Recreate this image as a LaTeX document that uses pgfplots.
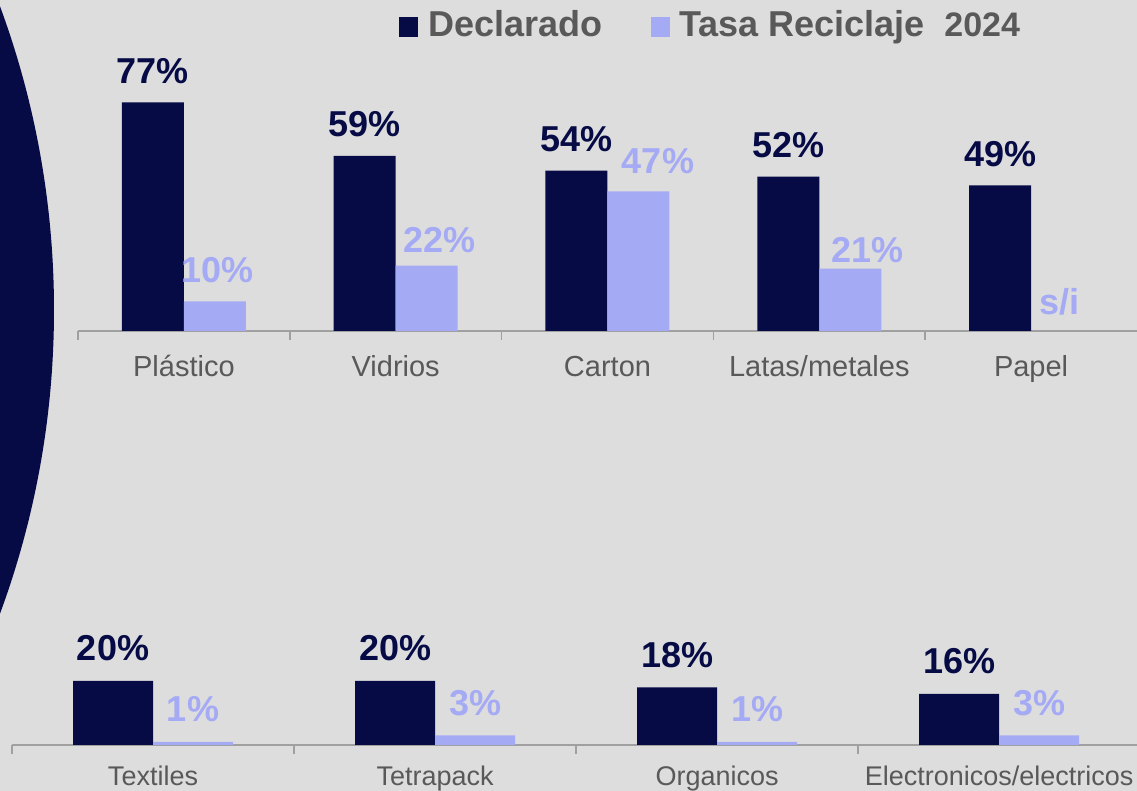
\documentclass[border=0pt]{standalone}
\usepackage{pgfplots}
\pgfplotsset{compat=1.18}
\usepackage{fontspec}
\setmainfont{Liberation Sans}
\definecolor{bgcol}{RGB}{221,221,221}
\definecolor{navy}{RGB}{6,11,70}
\definecolor{lilac}{RGB}{165,170,245}
\definecolor{txtgray}{RGB}{89,89,89}
\definecolor{axgray}{RGB}{160,160,160}
\newcommand{\pctfont}{\fontsize{18}{20}\selectfont\bfseries}

\pgfplotsset{
  recbars/.style={
    scale only axis, anchor=south west, clip=false,
    ybar, ymin=0,
    axis x line*=bottom, axis y line=none,
    axis line style={draw=axgray, line width=0.75pt, -},
    major tick length=0pt,
    minor tick length=4.5pt, tick align=outside,
    every minor tick/.append style={draw=axgray, line width=0.75pt},
    xticklabel style={text=txtgray, anchor=base},
    nodes near coords={\pgfmathprintnumber[assume math mode=true]{\pgfplotspointmeta}\%},
    every node near coord/.append style={font=\pctfont, anchor=base, inner sep=0pt},
  },
}

\begin{document}
\begin{tikzpicture}[x=0.5pt,y=0.5pt]
\fill[bgcol] (0,0) rectangle (1137,791);
\begin{scope}
  \clip (0,0) rectangle (1137,791);
  \fill[navy] (-823,481) circle[radius=438.5pt];
\end{scope}

% legend
\fill[navy] (399,754) rectangle (418,774);
\node[anchor=base west, inner sep=0pt, text=txtgray, font=\fontsize{18}{20}\selectfont\bfseries] at (428,754) {Declarado};
\fill[lilac] (651,754) rectangle (670,774);
\node[anchor=base west, inner sep=0pt, text=txtgray, font=\fontsize{18}{20}\selectfont\bfseries] at (679,754) {Tasa Reciclaje};
\node[anchor=base west, inner sep=0pt, text=txtgray, font=\fontsize{17}{19}\selectfont\bfseries] at (944,754) {2024};

% top group
\begin{axis}[recbars,
  at={(39pt,230pt)}, width=529.5pt, height=118.8pt,
  xmin=-0.5, xmax=4.5, ymax=80, bar width=31pt,
  xtick={0,1,2,3,4},
  xticklabels={Plástico,Vidrios,Carton,Latas/metales,Papel},
  minor xtick={-0.5,0.5,1.5,2.5,3.5},
  xticklabel style={font=\fontsize{14.5}{16}\selectfont, yshift=-23pt},
]
\addplot[fill=navy, draw=none, bar shift=-15.5pt,
  every node near coord/.append style={text=navy, yshift=9.5pt}]
  coordinates {(0,77) (1,59) (2,54) (3,52) (4,49)};
\addplot[fill=lilac, draw=none, bar shift=15.5pt, nodes near coords={}]
  coordinates {(0,10) (1,22) (2,47) (3,21)};
\node[anchor=base, inner sep=0pt, font=\pctfont, text=lilac, xshift=16.75pt, yshift=24pt] at (axis cs:0,0) {10\%};
\node[anchor=base, inner sep=0pt, font=\pctfont, text=lilac, xshift=21.75pt, yshift=39pt] at (axis cs:1,0) {22\%};
\node[anchor=base, inner sep=0pt, font=\pctfont, text=lilac, xshift=25.25pt, yshift=78.5pt] at (axis cs:2,0) {47\%};
\node[anchor=base, inner sep=0pt, font=\pctfont, text=lilac, xshift=24pt, yshift=34pt] at (axis cs:3,0) {21\%};
\node[anchor=base, inner sep=0pt, font=\pctfont, text=lilac, xshift=14pt, yshift=8pt] at (axis cs:4,0) {s/i};
\end{axis}

% bottom group
\begin{axis}[recbars,
  at={(6pt,23pt)}, width=562.5pt, height=40pt,
  xmin=-0.5, xmax=3.489, ymax=25, bar width=40pt,
  xtick={0,1,2,3},
  xticklabels={Textiles,Tetrapack,Organicos,Electronicos/electricos},
  minor xtick={-0.5,0.5,1.5,2.5},
  xticklabel style={font=\fontsize{13.5}{16}\selectfont, yshift=-20.5pt},
]
\addplot[fill=navy, draw=none, bar shift=-20pt,
  every node near coord/.append style={text=navy, yshift=10pt}]
  coordinates {(0,20) (1,20) (2,18) (3,16)};
\addplot[fill=lilac, draw=none, bar shift=20pt,
  every node near coord/.append style={text=lilac, yshift=10pt}]
  coordinates {(0,1) (1,3) (2,1) (3,3)};
\end{axis}

\pgfresetboundingbox
\path[use as bounding box] (0,0) rectangle (1137,791);
\end{tikzpicture}
\end{document}
